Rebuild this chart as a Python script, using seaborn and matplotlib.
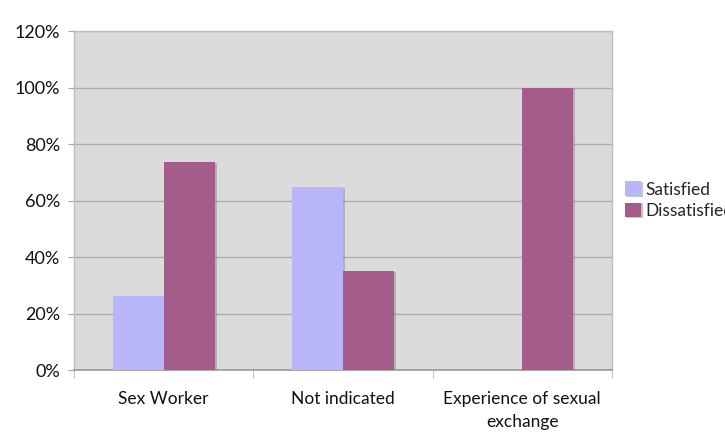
import matplotlib
matplotlib.use("Agg")
import matplotlib.pyplot as plt
import matplotlib.patheffects as pe
from matplotlib.ticker import FixedLocator, PercentFormatter
import pandas as pd
import seaborn as sns

# data
categories = ["Sex Worker", "Not indicated", "Experience of sexual\nexchange"]
satisfied = [26.2, 64.8, 0.0]
dissatisfied = [73.6, 35.0, 100.0]
series = ["Satisfied", "Dissatisfied"]
colors = ["#B8B5F8", "#A45C8A"]
yticks = [0, 20, 40, 60, 80, 100, 120]

df = pd.DataFrame({
    "category": categories * 2,
    "series": [series[0]] * 3 + [series[1]] * 3,
    "value": satisfied + dissatisfied,
})

sns.set_style("white")
plt.rcParams["font.family"] = ["Lato", "DejaVu Sans"]

fig = plt.figure(figsize=(7.25, 4.4), dpi=100)
ax = fig.add_axes([0.102, 0.159, 0.742, 0.7705])
ax.set_facecolor("#DADBDA")

sns.barplot(data=df, x="category", y="value", hue="series",
            palette=colors, width=0.57, saturation=1, ax=ax,
            zorder=3, linewidth=0)

# little drop shadow on the right side of the bars
for p in ax.patches:
    p.set_path_effects([pe.SimplePatchShadow(offset=(1.5, -0.5),
                                             shadow_rgbFace="#808080",
                                             alpha=0.45), pe.Normal()])

ax.set_ylim(0, 120)
ax.set_xlim(-0.5, 2.5)
ax.set_yticks(yticks)
ax.yaxis.set_major_formatter(PercentFormatter(decimals=0))
ax.grid(axis="y", color="#ADADAD", linewidth=1, zorder=0)
ax.set_axisbelow(True)

ax.xaxis.set_minor_locator(FixedLocator([-0.5, 0.5, 1.5, 2.5]))
ax.tick_params(axis="x", which="major", length=0, pad=15,
               labelsize=12.5, colors="#111111")
ax.tick_params(axis="x", which="minor", length=6, color="#B5B5B5",
               direction="out", bottom=True)
ax.tick_params(axis="y", length=4, color="#A0A0A0", direction="out",
               left=True, labelsize=13, labelcolor="#111111", pad=6)
for lbl in ax.get_xticklabels():
    lbl.set_linespacing(1.55)

for side in ["top", "right", "left"]:
    ax.spines[side].set_color("#BDBDBD")
    ax.spines[side].set_linewidth(1)
ax.spines["bottom"].set_color("#9A9A9A")
ax.spines["bottom"].set_linewidth(1.2)

ax.set_xlabel("")
ax.set_ylabel("")

handles, labels = ax.get_legend_handles_labels()
ax.legend(handles, labels, loc="center left",
          bbox_to_anchor=(0.862, 0.545), bbox_transform=fig.transFigure,
          frameon=False, fontsize=12.5, handlelength=0.9,
          handleheight=0.9, handletextpad=0.25, labelspacing=0.3,
          borderaxespad=0, borderpad=0)

fig.savefig("out.png", dpi=100, facecolor="white")
